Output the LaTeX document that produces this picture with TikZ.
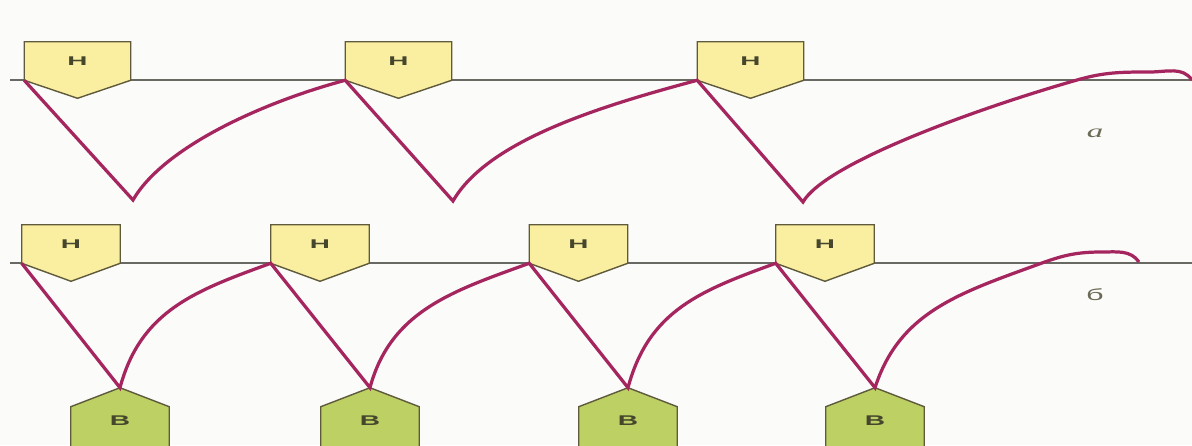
\documentclass[tikz,border=0pt]{standalone}
\usepackage{fontspec}
\setmainfont{Liberation Sans}
\newfontfamily\serifcyr{Liberation Serif}
\usepackage{xcolor}
\definecolor{vnline}{RGB}{165,38,95}
\definecolor{vngray}{RGB}{105,105,100}
\definecolor{vnyellow}{RGB}{250,239,160}
\definecolor{vngreen}{RGB}{188,208,100}
\definecolor{vnedge}{RGB}{95,90,60}
\definecolor{vntext}{RGB}{70,70,45}
\definecolor{vnpaper}{RGB}{251,251,249}
\usetikzlibrary{calc,backgrounds}

\begin{document}
\begin{tikzpicture}[
  x=0.25mm, y=0.25mm,
  hnode/.style={
    rectangle, inner sep=0pt,
    minimum height=9.5mm,
    font=\fontsize{9}{9}\selectfont\bfseries,
    text=vntext
  },
  bnode/.style={
    rectangle, inner sep=0pt,
    minimum width=24.5mm, minimum height=7mm,
    font=\fontsize{10}{10}\selectfont\bfseries,
    text=vntext
  },
  hshape/.style={draw=vnedge, line width=1pt, fill=vnyellow},
  bshape/.style={draw=vnedge, line width=1pt, fill=vngreen},
  baseln/.style={draw=vngray, line width=1.1pt},
  link/.style={draw=vnline, line width=2.3pt, line join=miter},
  rowlabel/.style={text=vntext!80}
]
\useasboundingbox (0,0) rectangle (1192,445);

\node[hnode, minimum width=26.5mm] (n1) at (77.5,384)  {\scalebox{2.2}[1]{Н}};
\node[hnode, minimum width=26.5mm] (n2) at (398.5,384) {\scalebox{2.2}[1]{Н}};
\node[hnode, minimum width=26.5mm] (n3) at (750.5,384) {\scalebox{2.2}[1]{Н}};

\node[hnode, minimum width=24.5mm] (m1) at (71,201)    {\scalebox{2.2}[1]{Н}};
\node[hnode, minimum width=24.5mm] (m2) at (320,201)   {\scalebox{2.2}[1]{Н}};
\node[hnode, minimum width=24.5mm] (m3) at (578.5,201) {\scalebox{2.2}[1]{Н}};
\node[hnode, minimum width=24.5mm] (m4) at (825,201)   {\scalebox{2.2}[1]{Н}};

\node[bnode] (v1) at (120,24) {\scalebox{2}[1]{В}};
\node[bnode] (v2) at (370,24) {\scalebox{2}[1]{В}};
\node[bnode] (v3) at (628,24) {\scalebox{2}[1]{В}};
\node[bnode] (v4) at (875,24) {\scalebox{2}[1]{В}};

\node[rowlabel, font=\fontsize{13}{13}\selectfont\serifcyr\itshape] (laba) at (1095,312) {\scalebox{1.8}[1]{а}};
\node[rowlabel, font=\fontsize{11.5}{12}\selectfont] (labb) at (1095,150) {\scalebox{1.9}[1]{б}};

\coordinate (la) at (10,365);
\coordinate (ra) at (1192,365);
\coordinate (lb) at (10,182);
\coordinate (rb) at (1192,182);

\coordinate (a1) at (133,245);
\coordinate (a2) at (453,244);
\coordinate (a3) at (803,243);
\coordinate (tx) at (1077,365);
\coordinate (tp) at (1150,373);
\coordinate (te) at (1192,365);

\coordinate (v1top) at ($(v1.north)+(0,19)$);
\coordinate (v2top) at ($(v2.north)+(0,19)$);
\coordinate (v3top) at ($(v3.north)+(0,19)$);
\coordinate (v4top) at ($(v4.north)+(0,19)$);
\coordinate (bx) at (1042,182);
\coordinate (bp) at (1102,193);
\coordinate (be) at (1139,183);

\begin{scope}[on background layer]
  \fill[vnpaper] (0,0) rectangle (1192,445);
  \draw[baseln] (la) -- (ra);
  \draw[baseln] (lb) -- (rb);
  \foreach \b in {n1,n2,n3,m1,m2,m3,m4}
    \draw[hshape] (\b.north west) -- (\b.north east) -- (\b.south east)
      -- ($(\b.south)+(0,-18)$) -- (\b.south west) -- cycle;
  \foreach \b in {v1,v2,v3,v4}
    \draw[bshape] ($(\b.south west)+(0,-20)$) -- (\b.north west)
      -- ($(\b.north)+(0,19)$) -- (\b.north east)
      -- ($(\b.south east)+(0,-20)$) -- cycle;
\end{scope}

\draw[link] (n1.south west) -- (a1)
    to[out=60,in=195,out distance=15mm,in distance=22mm] (n2.south west)
  -- (a2) to[out=60,in=195,out distance=17.5mm,in distance=25mm] (n3.south west)
  -- (a3) to[out=60,in=196,out distance=11mm,in distance=27.5mm] (tx)
    to[out=16,in=180] (tp) to[out=0,in=125] (te);
\draw[link] (m1.south west) -- (v1top)
    to[out=75,in=200,out distance=20mm,in distance=20mm] (m2.south west)
  -- (v2top) to[out=75,in=200,out distance=20mm,in distance=20mm] (m3.south west)
  -- (v3top) to[out=75,in=200,out distance=20mm,in distance=20mm] (m4.south west)
  -- (v4top) to[out=72,in=200,out distance=20mm,in distance=22mm] (bx)
    to[out=20,in=180] (bp) to[out=0,in=125] (be);
\end{tikzpicture}
\end{document}
